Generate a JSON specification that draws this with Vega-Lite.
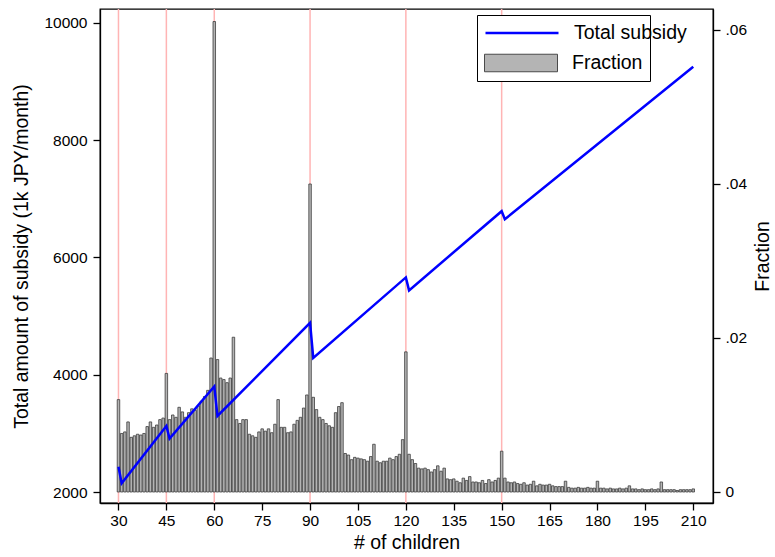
{
  "$schema": "https://vega.github.io/schema/vega-lite/v6.json",
  "autosize": "none",
  "width": 613,
  "height": 494,
  "padding": {"left": 100, "top": 9, "right": 62, "bottom": 54},
  "background": "white",
  "config": {
    "font": "Liberation Sans",
    "view": {"stroke": "black", "strokeWidth": 1.3},
    "axis": {
      "grid": false,
      "domainColor": "black",
      "domainWidth": 1.3,
      "tickColor": "black",
      "tickWidth": 1.3,
      "tickSize": 7,
      "labelColor": "black",
      "titleColor": "black",
      "labelFontSize": 15.5,
      "titleFontSize": 19.5,
      "titleFontWeight": "normal",
      "labelFont": "Liberation Sans",
      "titleFont": "Liberation Sans"
    }
  },
  "datasets": {
    "cuts": [{"n": 30}, {"n": 45}, {"n": 60}, {"n": 90}, {"n": 120}, {"n": 150}],
    "bars": [
      {"n": 30, "f": 0.0120}, {"n": 31, "f": 0.0076}, {"n": 32, "f": 0.0078}, {"n": 33, "f": 0.0091}, {"n": 34, "f": 0.0071},
      {"n": 35, "f": 0.0073}, {"n": 36, "f": 0.0075}, {"n": 37, "f": 0.0074}, {"n": 38, "f": 0.0076}, {"n": 39, "f": 0.0085},
      {"n": 40, "f": 0.0091}, {"n": 41, "f": 0.0084}, {"n": 42, "f": 0.0087}, {"n": 43, "f": 0.0094}, {"n": 44, "f": 0.0096},
      {"n": 45, "f": 0.0154}, {"n": 46, "f": 0.0094}, {"n": 47, "f": 0.0100}, {"n": 48, "f": 0.0097}, {"n": 49, "f": 0.0110},
      {"n": 50, "f": 0.0104}, {"n": 51, "f": 0.0097}, {"n": 52, "f": 0.0103}, {"n": 53, "f": 0.0108}, {"n": 54, "f": 0.0106},
      {"n": 55, "f": 0.0112}, {"n": 56, "f": 0.0118}, {"n": 57, "f": 0.0124}, {"n": 58, "f": 0.0132}, {"n": 59, "f": 0.0174},
      {"n": 60, "f": 0.0611}, {"n": 61, "f": 0.0172}, {"n": 62, "f": 0.0148}, {"n": 63, "f": 0.0146}, {"n": 64, "f": 0.0142},
      {"n": 65, "f": 0.0148}, {"n": 66, "f": 0.0201}, {"n": 67, "f": 0.0094}, {"n": 68, "f": 0.0089}, {"n": 69, "f": 0.0094},
      {"n": 70, "f": 0.0094}, {"n": 71, "f": 0.0075}, {"n": 72, "f": 0.0073}, {"n": 73, "f": 0.0071}, {"n": 74, "f": 0.0078},
      {"n": 75, "f": 0.0082}, {"n": 76, "f": 0.0079}, {"n": 77, "f": 0.0082}, {"n": 78, "f": 0.0077}, {"n": 79, "f": 0.0088},
      {"n": 80, "f": 0.0120}, {"n": 81, "f": 0.0084}, {"n": 82, "f": 0.0084}, {"n": 83, "f": 0.0077}, {"n": 84, "f": 0.0078},
      {"n": 85, "f": 0.0088}, {"n": 86, "f": 0.0093}, {"n": 87, "f": 0.0097}, {"n": 88, "f": 0.0109}, {"n": 89, "f": 0.0126},
      {"n": 90, "f": 0.0400}, {"n": 91, "f": 0.0123}, {"n": 92, "f": 0.0107}, {"n": 93, "f": 0.0097}, {"n": 94, "f": 0.0094},
      {"n": 95, "f": 0.0089}, {"n": 96, "f": 0.0086}, {"n": 97, "f": 0.0084}, {"n": 98, "f": 0.0103}, {"n": 99, "f": 0.0111},
      {"n": 100, "f": 0.0116}, {"n": 101, "f": 0.0050}, {"n": 102, "f": 0.0048}, {"n": 103, "f": 0.0042}, {"n": 104, "f": 0.0045},
      {"n": 105, "f": 0.0044}, {"n": 106, "f": 0.0043}, {"n": 107, "f": 0.0042}, {"n": 108, "f": 0.0040}, {"n": 109, "f": 0.0046},
      {"n": 110, "f": 0.0062}, {"n": 111, "f": 0.0040}, {"n": 112, "f": 0.0038}, {"n": 113, "f": 0.0040}, {"n": 114, "f": 0.0040},
      {"n": 115, "f": 0.0044}, {"n": 116, "f": 0.0042}, {"n": 117, "f": 0.0046}, {"n": 118, "f": 0.0049}, {"n": 119, "f": 0.0068},
      {"n": 120, "f": 0.0182}, {"n": 121, "f": 0.0049}, {"n": 122, "f": 0.0042}, {"n": 123, "f": 0.0037}, {"n": 124, "f": 0.0031},
      {"n": 125, "f": 0.0030}, {"n": 126, "f": 0.0031}, {"n": 127, "f": 0.0029}, {"n": 128, "f": 0.0026}, {"n": 129, "f": 0.0029},
      {"n": 130, "f": 0.0034}, {"n": 131, "f": 0.0027}, {"n": 132, "f": 0.0031}, {"n": 133, "f": 0.0017}, {"n": 134, "f": 0.0016},
      {"n": 135, "f": 0.0017}, {"n": 136, "f": 0.0014}, {"n": 137, "f": 0.0012}, {"n": 138, "f": 0.0018}, {"n": 139, "f": 0.0015},
      {"n": 140, "f": 0.0020}, {"n": 141, "f": 0.0013}, {"n": 142, "f": 0.0013}, {"n": 143, "f": 0.0012}, {"n": 144, "f": 0.0015},
      {"n": 145, "f": 0.0011}, {"n": 146, "f": 0.0016}, {"n": 147, "f": 0.0013}, {"n": 148, "f": 0.0015}, {"n": 149, "f": 0.0018},
      {"n": 150, "f": 0.0053}, {"n": 151, "f": 0.0018}, {"n": 152, "f": 0.0013}, {"n": 153, "f": 0.0012}, {"n": 154, "f": 0.0013},
      {"n": 155, "f": 0.0011}, {"n": 156, "f": 0.0010}, {"n": 157, "f": 0.0012}, {"n": 158, "f": 0.0009}, {"n": 159, "f": 0.0010},
      {"n": 160, "f": 0.0014}, {"n": 161, "f": 0.0008}, {"n": 162, "f": 0.0010}, {"n": 163, "f": 0.0009}, {"n": 164, "f": 0.0009},
      {"n": 165, "f": 0.0010}, {"n": 166, "f": 0.0008}, {"n": 167, "f": 0.0007}, {"n": 168, "f": 0.0007}, {"n": 169, "f": 0.0007},
      {"n": 170, "f": 0.0014}, {"n": 171, "f": 0.0006}, {"n": 172, "f": 0.0005}, {"n": 173, "f": 0.0005}, {"n": 174, "f": 0.0006},
      {"n": 175, "f": 0.0005}, {"n": 176, "f": 0.0005}, {"n": 177, "f": 0.0006}, {"n": 178, "f": 0.0005}, {"n": 179, "f": 0.0005},
      {"n": 180, "f": 0.0014}, {"n": 181, "f": 0.0005}, {"n": 182, "f": 0.0005}, {"n": 183, "f": 0.0004}, {"n": 184, "f": 0.0005},
      {"n": 185, "f": 0.0004}, {"n": 186, "f": 0.0004}, {"n": 187, "f": 0.0005}, {"n": 188, "f": 0.0004}, {"n": 189, "f": 0.0005},
      {"n": 190, "f": 0.0008}, {"n": 191, "f": 0.0004}, {"n": 192, "f": 0.0004}, {"n": 193, "f": 0.0003}, {"n": 194, "f": 0.0004},
      {"n": 195, "f": 0.0003}, {"n": 196, "f": 0.0003}, {"n": 197, "f": 0.0004}, {"n": 198, "f": 0.0003}, {"n": 199, "f": 0.0004},
      {"n": 200, "f": 0.0013}, {"n": 201, "f": 0.0003}, {"n": 202, "f": 0.0003}, {"n": 203, "f": 0.0003}, {"n": 204, "f": 0.0003},
      {"n": 205, "f": 0.0002}, {"n": 206, "f": 0.0003}, {"n": 207, "f": 0.0003}, {"n": 208, "f": 0.0003}, {"n": 209, "f": 0.0003},
      {"n": 210, "f": 0.0004}
    ],
    "subsidy": [
      {"n": 30, "s": 2431}, {"n": 31, "s": 2148}, {"n": 45, "s": 3125}, {"n": 46, "s": 2909},
      {"n": 60, "s": 3800}, {"n": 61, "s": 3296}, {"n": 90, "s": 4885}, {"n": 91, "s": 4285},
      {"n": 120, "s": 5658}, {"n": 121, "s": 5437}, {"n": 150, "s": 6787}, {"n": 151, "s": 6650},
      {"n": 210, "s": 9250}
    ]
  },
  "layer": [
    {
      "data": {"name": "cuts"},
      "mark": {"type": "rule", "color": "#ffb4b4", "strokeWidth": 1.5},
      "encoding": {
        "x": {"field": "n", "type": "quantitative", "scale": {"domain": [25.78, 214.62], "nice": false, "zero": false}}
      }
    },
    {
      "data": {"name": "bars"},
      "mark": {"type": "bar", "size": 2.5, "stroke": "#3c3c3c", "strokeWidth": 0.8},
      "encoding": {
        "x": {"field": "n", "type": "quantitative",
          "scale": {"domain": [25.78, 214.62], "nice": false, "zero": false},
          "axis": {
            "title": "# of children",
            "values": [30, 37.5, 45, 52.5, 60, 67.5, 75, 82.5, 90, 97.5, 105, 112.5, 120, 127.5, 135, 142.5, 150, 157.5, 165, 172.5, 180, 187.5, 195, 202.5, 210],
            "labelExpr": "datum.value % 15 === 0 ? format(datum.value, 'd') : ''",
            "labelPadding": 3,
            "titlePadding": 5
          }
        },
        "y": {"field": "f", "type": "quantitative",
          "scale": {"domain": [-0.001429, 0.062727], "nice": false, "zero": false},
          "axis": {
            "orient": "right",
            "title": "Fraction",
            "titleAngle": -90,
            "values": [0, 0.02, 0.04, 0.06],
            "labelExpr": "datum.value == 0 ? '0' : replace(format(datum.value, '.2f'), '0.', '.')",
            "labelPadding": 5,
            "titlePadding": 26
          }
        },
        "y2": {"datum": 0},
        "fill": {"datum": "Fraction", "type": "nominal",
          "scale": {"domain": ["Fraction"], "range": ["#b4b4b4"]},
          "legend": {
            "title": "\u00a0",
            "titleOrient": "top",
            "titleFontSize": 20,
            "titlePadding": 10,
            "orient": "none",
            "legendX": 377,
            "legendY": 6,
            "padding": 7,
            "strokeColor": "black",
            "fillColor": "white",
            "labelFontSize": 19.5,
            "labelColor": "black",
            "labelFont": "Liberation Sans",
            "labelOffset": 14,
            "symbolType": "M-1,-0.24H1V0.24H-1Z",
            "symbolSize": 5329,
            "symbolStrokeColor": "#4a4a4a",
            "symbolStrokeWidth": 1,
            "symbolOpacity": 1,
            "clipHeight": 22,
            "labelLimit": 300
          }
        }
      }
    },
    {
      "data": {"name": "subsidy"},
      "mark": {"type": "line", "strokeWidth": 2.5},
      "encoding": {
        "x": {"field": "n", "type": "quantitative", "scale": {"domain": [25.78, 214.62], "nice": false, "zero": false}},
        "y": {"field": "s", "type": "quantitative",
          "scale": {"domain": [1812.5, 10233.5], "nice": false, "zero": false},
          "axis": {
            "orient": "left",
            "title": "Total amount of subsidy (1k JPY/month)",
            "values": [2000, 4000, 6000, 8000, 10000],
            "format": "d",
            "labelPadding": 6,
            "titlePadding": 12
          }
        },
        "color": {"datum": "Total subsidy", "type": "nominal",
          "scale": {"domain": ["Total subsidy"], "range": ["#0000ff"]},
          "legend": {
            "title": null,
            "orient": "none",
            "legendX": 377,
            "legendY": 6,
            "padding": 7,
            "fillColor": "transparent",
            "labelFontSize": 19.5,
            "labelColor": "black",
            "labelFont": "Liberation Sans",
            "labelOffset": 14,
            "symbolType": "stroke",
            "symbolSize": 5329,
            "symbolStrokeWidth": 2.5,
            "symbolOpacity": 1,
            "clipHeight": 22
          }
        }
      }
    }
  ],
  "resolve": {"scale": {"y": "independent"}}
}
